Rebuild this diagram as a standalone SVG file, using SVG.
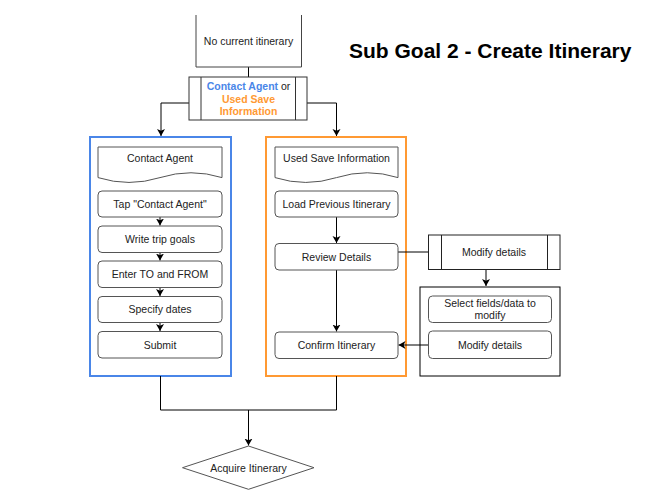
<svg xmlns="http://www.w3.org/2000/svg" width="646" height="504" viewBox="0 0 646 504">
<defs>
<style>
.n{fill:#fff;stroke:#555;stroke-width:1}
.t{font-family:"Liberation Sans",Arial,sans-serif;font-size:10.5px;fill:#222;text-anchor:middle}
.c{fill:none;stroke:#000;stroke-width:1}
.blue{fill:#fff;stroke:#4a86e8;stroke-width:2}
.orange{fill:#fff;stroke:#ff9933;stroke-width:2}
</style>
<marker id="ar" markerUnits="userSpaceOnUse" markerWidth="10" markerHeight="10" refX="7" refY="4" orient="auto">
<path d="M0,0 L7,4 L0,8 L1.8,4 Z" fill="#000"/>
</marker>
</defs>
<rect width="646" height="504" fill="#fff"/>

<text x="349" y="58" style="font-family:'Liberation Sans',Arial,sans-serif;font-size:21px;font-weight:bold;fill:#000">Sub Goal 2 - Create Itinerary</text>

<g id="containers">
<rect id="blue-lane" class="blue" x="90" y="137" width="141" height="239"/>
<rect id="orange-lane" class="orange" x="266" y="137" width="140" height="239"/>
<rect id="modify-group" class="n" x="420" y="287" width="140" height="89" style="stroke:#000"/>
</g>

<g id="connectors">
<path class="c" d="M248.5,67 V77"/>
<path class="c" d="M189,103 H161 V136" marker-end="url(#ar)"/>
<path class="c" d="M307,103 H336.5 V136" marker-end="url(#ar)"/>
<path class="c" d="M160,217 V225.5" marker-end="url(#ar)"/>
<path class="c" d="M160,252.5 V260.5" marker-end="url(#ar)"/>
<path class="c" d="M160,287.5 V296" marker-end="url(#ar)"/>
<path class="c" d="M160,322.5 V331" marker-end="url(#ar)"/>
<path class="c" d="M336.5,217 V243" marker-end="url(#ar)"/>
<path class="c" d="M336.5,270 V331.5" marker-end="url(#ar)"/>
<path class="c" d="M398,252 H428"/>
<path class="c" d="M486,269.5 V286" marker-end="url(#ar)"/>
<path class="c" d="M428,345 H398.5" marker-end="url(#ar)"/>
<path class="c" d="M160.5,376 V410 H336.5 V376"/>
<path class="c" d="M248.5,410 V445.5" marker-end="url(#ar)"/>
</g>

<g id="no-current">
<path d="M196,15 V67 H301.5 V15" fill="#fff" stroke="#444" stroke-width="1"/>
<text class="t" x="248.5" y="45">No current itinerary</text>
</g>

<g id="choice">
<rect class="n" x="189" y="77" width="118" height="43" style="stroke:#333"/>
<path d="M201,77 V120 M295.5,77 V120" stroke="#333" fill="none"/>
<text class="t" x="248.5" y="90" style="font-weight:bold"><tspan fill="#4a86e8">Contact Agent</tspan><tspan fill="#222" font-weight="normal"> or</tspan></text>
<text class="t" x="248.5" y="102.5" style="font-weight:bold;fill:#ff9933">Used Save</text>
<text class="t" x="248.5" y="114.5" style="font-weight:bold;fill:#ff9933">Information</text>
</g>

<g id="doc-contact">
<path class="n" d="M98,147 H222 V177.6 Q191,167.9 160,177.6 Q129,187.3 98,177.6 Z"/>
<text class="t" x="160" y="162">Contact Agent</text>
</g>
<g id="tap"><rect class="n" x="98" y="191" width="124" height="26" rx="4"/><text class="t" x="160" y="207.8">Tap "Contact Agent"</text></g>
<g id="write"><rect class="n" x="98" y="226" width="124" height="26.5" rx="4"/><text class="t" x="160" y="243">Write trip goals</text></g>
<g id="enter"><rect class="n" x="98" y="261" width="124" height="26.5" rx="4"/><text class="t" x="160" y="278">Enter TO and FROM</text></g>
<g id="dates"><rect class="n" x="98" y="296.5" width="124" height="26" rx="4"/><text class="t" x="160" y="313.3">Specify dates</text></g>
<g id="submit"><rect class="n" x="98" y="331.5" width="124" height="26.5" rx="4"/><text class="t" x="160" y="348.5">Submit</text></g>

<g id="doc-saved">
<path class="n" d="M275,147 H398 V177.6 Q367.25,167.9 336.5,177.6 Q305.75,187.3 275,177.6 Z"/>
<text class="t" x="336.5" y="162">Used Save Information</text>
</g>
<g id="load"><rect class="n" x="275" y="191" width="123" height="26" rx="4"/><text class="t" x="336.5" y="207.8">Load Previous Itinerary</text></g>
<g id="review"><rect class="n" x="275" y="243.5" width="123" height="26.5" rx="4"/><text class="t" x="336.5" y="260.5">Review Details</text></g>
<g id="confirm"><rect class="n" x="275" y="332" width="123" height="26.5" rx="4"/><text class="t" x="336.5" y="349">Confirm Itinerary</text></g>

<g id="modify-process">
<rect class="n" x="428.5" y="235" width="131.5" height="34.5" style="stroke:#222"/>
<path d="M441.5,235 V269.5 M547.5,235 V269.5" stroke="#222" fill="none"/>
<text class="t" x="494" y="255.5">Modify details</text>
</g>
<g id="select"><rect class="n" x="428.5" y="296" width="123" height="26.5" rx="4"/><text class="t" x="490" y="306.8">Select fields/data to</text><text class="t" x="490" y="319">modify</text></g>
<g id="modify"><rect class="n" x="428.5" y="331" width="123" height="27.5" rx="4"/><text class="t" x="490" y="348.5">Modify details</text></g>

<g id="acquire">
<path class="n" d="M248.5,446 L314,467.7 L248.5,489.3 L182.5,467.7 Z"/>
<text class="t" x="248.5" y="471.5">Acquire Itinerary</text>
</g>
</svg>
